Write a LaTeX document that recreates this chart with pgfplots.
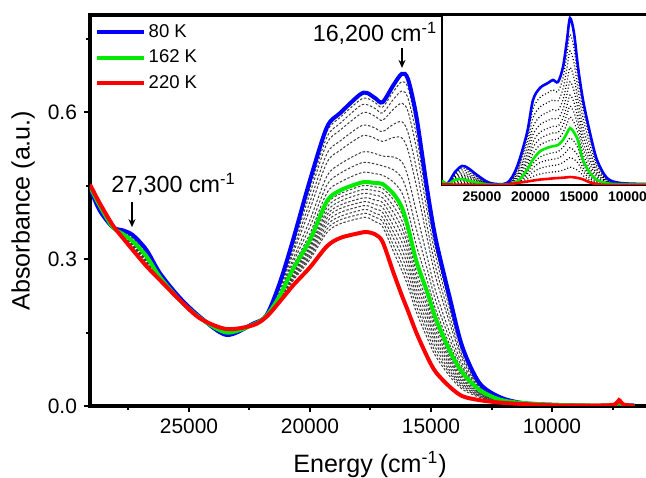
\documentclass[border=0pt]{standalone}
\usepackage{fontspec}
\setmainfont{Liberation Sans}
\usepackage{pgfplots}
\pgfplotsset{compat=1.18}
\usepackage{pgfplotstable}
\usetikzlibrary{arrows.meta}

\definecolor{cblue}{RGB}{0,0,255}
\definecolor{cgreen}{RGB}{0,235,0}
\definecolor{cred}{RGB}{255,0,0}
\definecolor{cgray}{RGB}{60,60,60}

% main spectra: 80 K (B), intermediate (u1..u8), 162 K (G), intermediate (l1..l9), 220 K (R)
\pgfplotstableread{
x B u1 u2 u3 u4 u5 u6 u7 u8 G l1 l2 l3 l4 l5 l6 l7 l8 l9 R
29090 .445 .445 .445 .446 .446 .446 .447 .447 .448 .448 .448 .449 .449 .449 .450 .450 .450 .451 .451 .452
28700 .400 .401 .401 .402 .404 .405 .407 .408 .409 .410 .410 .411 .411 .412 .412 .412 .413 .413 .414 .415
28150 .365 .365 .365 .365 .365 .365 .365 .365 .365 .365 .365 .366 .366 .366 .367 .367 .367 .368 .368 .369
27700 .358 .358 .357 .356 .355 .354 .353 .352 .351 .350 .349 .349 .348 .347 .346 .346 .345 .344 .344 .341
27300 .348 .347 .346 .345 .343 .342 .339 .338 .336 .335 .334 .332 .331 .329 .328 .327 .325 .324 .322 .317
26750 .318 .317 .316 .315 .313 .312 .309 .308 .306 .305 .304 .302 .300 .299 .297 .296 .294 .292 .291 .285
26200 .271 .271 .270 .269 .268 .267 .266 .265 .264 .263 .263 .262 .262 .261 .261 .260 .260 .259 .259 .257
25400 .222 .222 .221 .221 .220 .220 .219 .218 .218 .217 .217 .217 .217 .217 .217 .217 .217 .217 .217 .217
24550 .182 .182 .182 .182 .181 .181 .181 .180 .180 .180 .180 .180 .180 .180 .180 .180 .179 .179 .179 .179
23450 .145 .145 .146 .146 .147 .147 .148 .149 .149 .150 .150 .151 .152 .152 .153 .153 .154 .154 .155 .157
22350 .168 .168 .168 .168 .167 .167 .167 .166 .166 .166 .166 .166 .166 .166 .166 .166 .165 .165 .165 .165
21800 .185 .185 .185 .185 .185 .185 .184 .184 .184 .184 .184 .184 .184 .183 .183 .183 .183 .183 .183 .182
21250 .251 .249 .248 .245 .242 .239 .234 .231 .228 .225 .224 .223 .222 .221 .220 .219 .218 .217 .216 .213
20700 .339 .335 .331 .326 .318 .311 .300 .293 .286 .280 .278 .275 .272 .269 .267 .264 .261 .259 .256 .246
20000 .461 .454 .445 .434 .417 .402 .380 .366 .352 .339 .335 .331 .326 .322 .317 .313 .308 .304 .299 .283
19300 .569 .560 .549 .536 .515 .497 .469 .451 .435 .418 .412 .405 .397 .390 .383 .376 .369 .361 .354 .326
18750 .598 .589 .577 .563 .541 .522 .494 .475 .457 .440 .433 .426 .418 .410 .403 .395 .387 .380 .372 .343
17950 .635 .624 .612 .595 .570 .549 .516 .495 .475 .455 .448 .440 .432 .423 .415 .407 .399 .391 .383 .353
17650 .639 .628 .615 .599 .573 .552 .519 .497 .477 .457 .450 .442 .434 .425 .417 .409 .401 .393 .385 .355
17300 .628 .619 .607 .591 .567 .546 .515 .494 .474 .455 .447 .439 .430 .420 .411 .402 .393 .385 .376 .350
17000 .620 .610 .598 .583 .560 .540 .510 .490 .471 .453 .444 .435 .425 .415 .405 .395 .385 .376 .366 .335
16550 .655 .642 .626 .606 .575 .548 .508 .482 .457 .433 .421 .408 .395 .382 .368 .355 .342 .328 .315 .272
16200 .678 .662 .643 .618 .580 .547 .498 .465 .435 .405 .392 .378 .363 .349 .334 .319 .305 .290 .276 .225
15950 .667 .649 .628 .601 .558 .522 .468 .431 .398 .365 .353 .339 .326 .312 .298 .285 .271 .257 .244 .194
15600 .590 .572 .552 .525 .484 .448 .395 .360 .327 .295 .285 .273 .261 .250 .238 .226 .215 .203 .191 .149
15150 .440 .428 .413 .394 .365 .340 .303 .278 .255 .232 .223 .212 .202 .191 .181 .170 .159 .149 .138 .100
14800 .340 .330 .319 .304 .282 .262 .233 .214 .196 .178 .170 .162 .153 .144 .135 .127 .118 .109 .101 .069
14200 .216 .210 .202 .193 .178 .165 .146 .133 .122 .110 .105 .099 .093 .088 .082 .076 .070 .065 .059 .038
13700 .120 .117 .113 .109 .101 .095 .086 .079 .074 .068 .065 .061 .057 .053 .049 .045 .042 .038 .034 .020
13000 .047 .046 .045 .044 .042 .040 .038 .036 .035 .033 .032 .030 .028 .026 .025 .023 .021 .020 .018 .012
12150 .018 .018 .017 .017 .016 .016 .015 .014 .014 .013 .013 .012 .012 .011 .011 .010 .010 .009 .009 .007
11200 .006 .006 .006 .006 .006 .006 .006 .006 .006 .006 .006 .006 .006 .005 .005 .005 .005 .005 .005 .004
9700  .002 .002 .002 .002 .002 .002 .002 .002 .002 .002 .002 .002 .002 .002 .002 .002 .002 .002 .002 .001
8000  .000 .001 .001 .001 .001 .001 .001 .001 .001 .001 .001 .001 .001 .001 .001 .001 .001 .001 .001 .001
7400  .002 .002 .002 .002 .002 .002 .002 .002 .002 .003 .002 .002 .002 .002 .002 .002 .002 .002 .002 .003
7230  .003 .002 .002 .002 .002 .002 .002 .002 .002 .006 .002 .002 .002 .002 .002 .002 .002 .002 .002 .012
7050  .002 .002 .002 .002 .002 .002 .002 .002 .002 .002 .002 .002 .002 .002 .002 .002 .002 .002 .002 .003
6600  .001 .001 .001 .001 .001 .001 .001 .001 .001 .000 .001 .001 .001 .001 .001 .001 .001 .001 .001 .000
}\maintab

% inset spectra
\pgfplotstableread{
x B v1 v2 v3 v4 v5 v6 v7 G w1 w2 w3 w4 R
29124 .015 .017 .018 .020 .021 .022 .023 .024 .025 .021 .017 .013 .009 .005
28505 .012 .011 .010 .009 .009 .008 .007 .007 .006 .005 .005 .004 .004 .003
27784 .076 .069 .062 .055 .049 .044 .039 .035 .030 .024 .019 .013 .008 .002
27062 .112 .100 .089 .077 .067 .058 .050 .043 .035 .028 .022 .015 .009 .002
26443 .100 .089 .078 .067 .057 .048 .041 .033 .026 .021 .016 .012 .007 .002
25515 .059 .052 .046 .039 .033 .028 .023 .019 .014 .011 .009 .006 .004 .001
24175 .012 .011 .009 .008 .006 .005 .004 .003 .002 .002 .001 .001 .000 .000
22423 .012 .011 .009 .008 .007 .006 .005 .004 .003 .003 .003 .002 .002 .002
21392 .106 .093 .080 .066 .055 .044 .036 .027 .018 .017 .016 .014 .013 .012
20360 .306 .273 .241 .208 .180 .153 .132 .110 .088 .074 .061 .047 .034 .020
19742 .500 .448 .395 .343 .297 .255 .220 .185 .150 .125 .100 .076 .051 .026
19020 .571 .515 .459 .403 .355 .310 .273 .235 .198 .165 .132 .098 .065 .032
18195 .600 .543 .486 .429 .380 .334 .296 .258 .220 .183 .146 .110 .073 .036
17680 .618 .560 .501 .443 .392 .345 .306 .267 .228 .190 .152 .115 .077 .039
17164 .606 .550 .495 .439 .391 .346 .309 .272 .235 .196 .157 .119 .080 .041
16649 .694 .630 .565 .501 .445 .394 .351 .308 .265 .221 .176 .132 .087 .043
16237 .853 .771 .689 .606 .535 .469 .415 .360 .305 .253 .201 .149 .097 .045
15928 .982 .885 .788 .691 .607 .529 .464 .400 .335 .277 .220 .162 .105 .047
15515 .894 .806 .719 .631 .555 .485 .427 .368 .310 .257 .204 .151 .098 .045
15102 .694 .629 .564 .499 .442 .390 .347 .303 .260 .216 .172 .129 .085 .041
14587 .500 .447 .394 .341 .295 .253 .218 .182 .147 .124 .101 .079 .056 .033
13865 .306 .271 .236 .200 .170 .142 .118 .095 .071 .060 .049 .037 .026 .015
13143 .147 .129 .112 .094 .079 .065 .053 .042 .030 .025 .020 .015 .010 .005
12112 .041 .036 .032 .027 .023 .019 .016 .013 .010 .008 .006 .004 .002 .000
10772 .012 .011 .010 .009 .008 .007 .006 .006 .005 .004 .003 .002 .001 .000
8091  .006 .006 .005 .005 .004 .004 .004 .003 .003 .002 .002 .001 .001 .000
}\insettab

\begin{document}
\begin{tikzpicture}
\begin{axis}[
  name=main,
  at={(0,0)}, anchor=south west,
  scale only axis, width=280bp, height=195.5bp,
  x dir=reverse,
  xmin=5951, xmax=29090, ymin=0, ymax=0.798,
  scaled x ticks=false, scaled y ticks=false,
  xtick={10000,15000,20000,25000},
  xticklabels={10000,15000,20000,25000},
  minor xtick={7500,12500,17500,22500,27500},
  ytick={0,0.3,0.6},
  yticklabels={0.0,0.3,0.6},
  minor ytick={0.15,0.45,0.75},
  xtick pos=bottom, ytick pos=left,
  tick align=outside,
  major tick length=3bp, minor tick length=2bp,
  every tick/.style={black, line width=1bp},
  axis line style={line width=1.8bp},
  tick label style={font=\fontsize{10.5}{12}\selectfont},
  label style={font=\fontsize{12.6}{14}\selectfont},
  xlabel={Energy (cm\textsuperscript{-1})},
  ylabel={Absorbance (a.u.)},
  xlabel style={at={(axis description cs:0.5,-0.169)}, anchor=base},
  ylabel style={at={(axis description cs:-0.1196,0.5)}, anchor=center},
  legend style={at={(axis description cs:-0.003,1)}, anchor=north west, draw=none, fill=none,
    font=\fontsize{9.3}{11}\selectfont, inner xsep=3bp, inner ysep=3bp, row sep=1.8bp,
    nodes={inner sep=1.5bp}},
  legend cell align=left,
  legend image code/.code={\draw[#1] (0bp,0bp) -- (23.5bp,0bp);},
]
\pgfplotsinvokeforeach{u1,u2,u3,u4,u5,u6,u7,u8,l1,l2,l3,l4,l5,l6,l7,l8,l9}{
  \addplot[cgray, line width=0.5bp, dash pattern=on 1.2bp off 0.9bp, smooth, forget plot] table[x=x, y=#1]{\maintab};
}
\addplot[cblue, line width=2bp, smooth] table[x=x, y=B]{\maintab};
\addlegendentry{80 K}
\addplot[cgreen, line width=2bp, smooth] table[x=x, y=G]{\maintab};
\addlegendentry{162 K}
\addplot[cred, line width=2bp, smooth] table[x=x, y=R]{\maintab};
\addlegendentry{220 K}
\node[font=\fontsize{11.7}{13}\selectfont, anchor=base] at (axis cs:17314,0.743) {16,200 cm\textsuperscript{-1}};
\draw[-{Stealth[length=4bp,width=3.5bp]}, line width=0.7bp] (axis cs:16198,0.731) -- (axis cs:16198,0.690);
\node[font=\fontsize{11.7}{13}\selectfont, anchor=base] at (axis cs:25640,0.435) {27,300 cm\textsuperscript{-1}};
\draw[-{Stealth[length=4bp,width=3.5bp]}, line width=0.7bp] (axis cs:27355,0.416) -- (axis cs:27355,0.365);
\end{axis}

\begin{axis}[
  at={(176bp,110.5bp)}, anchor=south west,
  scale only axis, width=104bp, height=85bp,
  x dir=reverse,
  xmin=7679, xmax=29124, ymin=0, ymax=1,
  scaled x ticks=false,
  xtick={10000,15000,20000,25000},
  xticklabels={10000,15000,20000,25000},
  ytick=\empty,
  xtick pos=bottom,
  major tick length=0bp,
  axis line style={line width=1.3bp},
  axis background/.style={fill=white},
  tick label style={font=\bfseries\fontsize{7}{8}\selectfont},
]
\pgfplotsinvokeforeach{v1,v2,v3,v4,v5,v6,v7,w1,w2,w3,w4}{
  \addplot[black, line width=0.6bp, dash pattern=on 0.5bp off 1.1bp, smooth, forget plot] table[x=x, y=#1]{\insettab};
}
\addplot[cblue, line width=1.3bp, smooth] table[x=x, y=B]{\insettab};
\addplot[cgreen, line width=1.3bp, smooth] table[x=x, y=G]{\insettab};
\addplot[cred, line width=1.3bp, smooth] table[x=x, y=R]{\insettab};
\end{axis}
\pgfresetboundingbox
\useasboundingbox (-45bp,-36bp) rectangle (278bp,203bp);
\end{tikzpicture}
\end{document}
